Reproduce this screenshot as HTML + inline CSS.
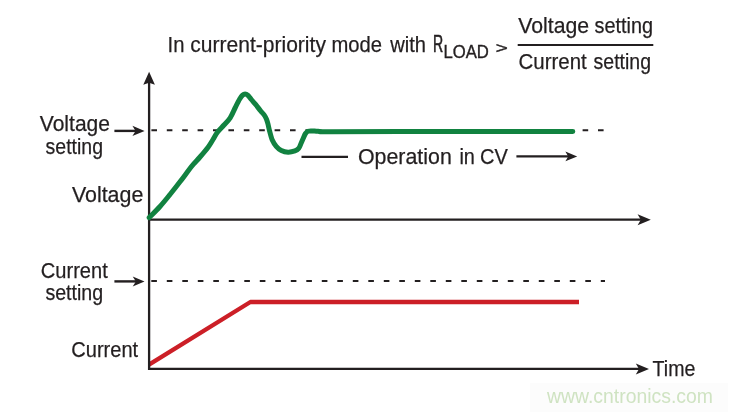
<!DOCTYPE html>
<html><head><meta charset="utf-8"><style>
html,body{margin:0;padding:0;background:#fff;width:731px;height:412px;overflow:hidden}
svg{display:block;will-change:transform;filter:blur(0.3px)}
text{font-family:"Liberation Sans",sans-serif}
</style></head><body>
<svg width="731" height="412" viewBox="0 0 731 412">
<rect width="731" height="412" fill="#fff"/>
<rect x="530" y="383" width="198" height="29" fill="#fcfcfc"/>
<polyline points="149,364.6 250.4,302 579,302" fill="none" stroke="#cc1f27" stroke-width="4.3" stroke-linejoin="round" stroke-linecap="butt"/>
<line x1="149.1" y1="80" x2="149.1" y2="370" stroke="#231f20" stroke-width="2.3"/>
<path d="M149.1,71.8 L143.29999999999998,84.8 L149.1,82.8 L154.9,84.8 Z" fill="#231f20"/>
<line x1="148" y1="219.6" x2="641" y2="219.6" stroke="#231f20" stroke-width="2.3"/>
<path d="M650.8,219.7 L637.5999999999999,214.2 L640.8,219.7 L637.5999999999999,225.2 Z" fill="#231f20"/>
<line x1="148" y1="368.8" x2="639" y2="368.8" stroke="#231f20" stroke-width="2.3"/>
<path d="M649,368.9 L635.8,363.4 L639.0,368.9 L635.8,374.4 Z" fill="#231f20"/>
<line x1="114.4" y1="130.9" x2="137" y2="130.9" stroke="#231f20" stroke-width="2.4"/>
<path d="M144.6,130.9 L132.4,125.80000000000001 L135.6,130.9 L132.4,136.0 Z" fill="#231f20"/>
<line x1="114.4" y1="281.4" x2="137" y2="281.4" stroke="#231f20" stroke-width="2.4"/>
<path d="M144.5,281.4 L132.7,276.4 L135.89999999999998,281.4 L132.7,286.4 Z" fill="#231f20"/>
<line x1="151.4" y1="130.2" x2="311" y2="130.2" stroke="#231f20" stroke-width="2" stroke-dasharray="5.6 9.8"/>
<line x1="582.6" y1="130.2" x2="605" y2="130.2" stroke="#231f20" stroke-width="2" stroke-dasharray="5.6 9.8"/>
<line x1="151.3" y1="281.1" x2="605" y2="281.1" stroke="#231f20" stroke-width="2" stroke-dasharray="5.6 9.9"/>
<line x1="517.7" y1="45" x2="653.3" y2="45" stroke="#231f20" stroke-width="2"/>
<line x1="301.5" y1="156.8" x2="348" y2="156.8" stroke="#231f20" stroke-width="2.2"/>
<line x1="516.4" y1="156.4" x2="570" y2="156.4" stroke="#231f20" stroke-width="2.2"/>
<path d="M577.2,156.4 L565.4000000000001,151.5 L568.2,156.4 L565.4000000000001,161.3 Z" fill="#231f20"/>
<path d="M149.2,217.6 C151.00,215.75 156.53,210.35 160,206.5 C163.47,202.65 166.67,198.62 170,194.5 C173.33,190.38 176.80,185.97 180,181.8 C183.20,177.63 186.95,172.43 189.2,169.5 C191.45,166.57 191.70,166.28 193.5,164.2 C195.30,162.12 197.57,159.83 200,157 C202.43,154.17 205.93,150.12 208.1,147.2 C210.27,144.28 211.42,142.03 213,139.5 C214.58,136.97 215.77,134.42 217.6,132 C219.43,129.58 221.90,127.37 224,125 C226.10,122.63 228.32,120.72 230.2,117.8 C232.08,114.88 233.72,110.62 235.3,107.5 C236.88,104.38 238.48,101.17 239.7,99.1 C240.92,97.03 241.70,95.95 242.6,95.1 C243.50,94.25 244.25,94.00 245.1,94 C245.95,94.00 246.67,94.18 247.7,95.1 C248.73,96.02 249.95,97.90 251.3,99.5 C252.65,101.10 254.23,102.78 255.8,104.7 C257.37,106.62 259.32,109.30 260.7,111 C262.08,112.70 263.13,113.52 264.1,114.9 C265.07,116.28 265.85,117.77 266.5,119.3 C267.15,120.83 267.48,122.15 268,124.1 C268.52,126.05 268.87,128.30 269.6,131 C270.33,133.70 271.30,137.75 272.4,140.3 C273.50,142.85 274.72,144.60 276.2,146.3 C277.68,148.00 279.32,149.52 281.3,150.5 C283.28,151.48 285.83,152.13 288.1,152.2 C290.37,152.27 293.13,151.55 294.9,150.9 C296.67,150.25 297.68,149.53 298.7,148.3 C299.72,147.07 300.22,145.22 301,143.5 C301.78,141.78 302.65,139.67 303.4,138 C304.15,136.33 304.73,134.63 305.5,133.5 C306.27,132.37 306.92,131.63 308,131.2 C309.08,130.77 310.33,130.88 312,130.9 C313.67,130.92 315.00,131.17 318,131.3 C321.00,131.43 316.33,131.65 330,131.7 C343.67,131.75 359.53,131.63 400,131.6 C440.47,131.57 544.00,131.52 572.8,131.5" fill="none" stroke="#118240" stroke-width="5" stroke-linejoin="round" stroke-linecap="round"/>
<text x="167.6" y="51.8" font-size="22.5" fill="#231f20" stroke="#231f20" stroke-width="0.25" textLength="16.9" lengthAdjust="spacingAndGlyphs">In</text>
<text x="190.3" y="51.8" font-size="22.5" fill="#231f20" stroke="#231f20" stroke-width="0.25" textLength="135.6" lengthAdjust="spacingAndGlyphs">current-priority</text>
<text x="331.5" y="51.8" font-size="22.5" fill="#231f20" stroke="#231f20" stroke-width="0.25" textLength="50.6" lengthAdjust="spacingAndGlyphs">mode</text>
<text x="390.2" y="51.8" font-size="22.5" fill="#231f20" stroke="#231f20" stroke-width="0.25" textLength="35.8" lengthAdjust="spacingAndGlyphs">with</text>
<text x="433.1" y="51.7" font-size="23.5" fill="#231f20" stroke="#231f20" stroke-width="0.6" textLength="10.2" lengthAdjust="spacingAndGlyphs">R</text>
<text x="443.4" y="58.2" font-size="17.5" fill="#231f20" stroke="#231f20" stroke-width="0.35" textLength="45.4" lengthAdjust="spacingAndGlyphs">LOAD</text>
<text x="495.7" y="52.6" font-size="15.5" fill="#231f20" stroke="#231f20" stroke-width="0.5" textLength="12.0" lengthAdjust="spacingAndGlyphs">&gt;</text>
<text x="518.25" y="33" font-size="22.5" fill="#231f20" stroke="#231f20" stroke-width="0.25" textLength="70.9" lengthAdjust="spacingAndGlyphs">Voltage</text>
<text x="594.5" y="33" font-size="22.5" fill="#231f20" stroke="#231f20" stroke-width="0.25" textLength="58.5" lengthAdjust="spacingAndGlyphs">setting</text>
<text x="518.6" y="68.5" font-size="22.5" fill="#231f20" stroke="#231f20" stroke-width="0.25" textLength="68.2" lengthAdjust="spacingAndGlyphs">Current</text>
<text x="593.6" y="68.5" font-size="22.5" fill="#231f20" stroke="#231f20" stroke-width="0.25" textLength="57.4" lengthAdjust="spacingAndGlyphs">setting</text>
<text x="39.8" y="130.5" font-size="22.5" fill="#231f20" stroke="#231f20" stroke-width="0.25" textLength="70.2" lengthAdjust="spacingAndGlyphs">Voltage</text>
<text x="45.6" y="154.3" font-size="22.5" fill="#231f20" stroke="#231f20" stroke-width="0.25" textLength="57.4" lengthAdjust="spacingAndGlyphs">setting</text>
<text x="71.9" y="201.5" font-size="22.5" fill="#231f20" stroke="#231f20" stroke-width="0.25" textLength="71.4" lengthAdjust="spacingAndGlyphs">Voltage</text>
<text x="40.8" y="278" font-size="22.5" fill="#231f20" stroke="#231f20" stroke-width="0.25" textLength="67.0" lengthAdjust="spacingAndGlyphs">Current</text>
<text x="45.4" y="299.7" font-size="22.5" fill="#231f20" stroke="#231f20" stroke-width="0.25" textLength="57.8" lengthAdjust="spacingAndGlyphs">setting</text>
<text x="71.3" y="356.5" font-size="22.5" fill="#231f20" stroke="#231f20" stroke-width="0.25" textLength="66.8" lengthAdjust="spacingAndGlyphs">Current</text>
<text x="358.0" y="164.3" font-size="22.5" fill="#231f20" stroke="#231f20" stroke-width="0.25" textLength="93.8" lengthAdjust="spacingAndGlyphs">Operation</text>
<text x="459.4" y="164.3" font-size="22.5" fill="#231f20" stroke="#231f20" stroke-width="0.25" textLength="15.5" lengthAdjust="spacingAndGlyphs">in</text>
<text x="480.1" y="164.3" font-size="22.5" fill="#231f20" stroke="#231f20" stroke-width="0.25" textLength="27.8" lengthAdjust="spacingAndGlyphs">CV</text>
<text x="652.6" y="375.9" font-size="22.5" fill="#231f20" stroke="#231f20" stroke-width="0.25" textLength="42.8" lengthAdjust="spacingAndGlyphs">Time</text>
<text x="547.0" y="402.5" font-size="20" fill="#cfe3c2" stroke="#cfe3c2" stroke-width="0" textLength="166.0" lengthAdjust="spacingAndGlyphs">www.cntronics.com</text>
</svg>
</body></html>
